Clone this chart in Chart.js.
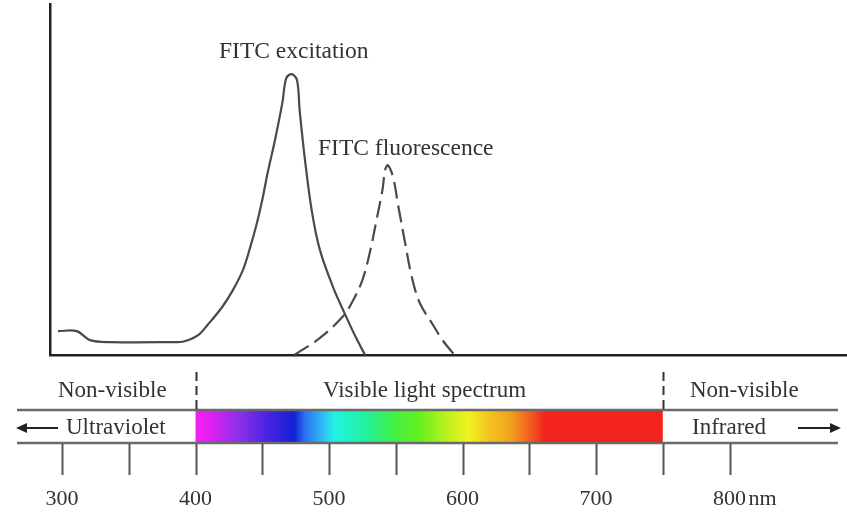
<!DOCTYPE html>
<html>
<head>
<meta charset="utf-8">
<script src="https://cdn.jsdelivr.net/npm/chart.js@4/dist/chart.umd.min.js"></script>
<style>
  html, body { margin: 0; padding: 0; background: #fff; }
  canvas { display: block; }
</style>
</head>
<body>
<canvas id="fitc" width="847" height="512"></canvas>
<script>
// wavelength (nm) vs relative intensity
const excitationNm  = [297, 311, 321, 336, 383, 391, 402, 409, 420, 428, 435.5, 441, 446, 450, 454, 459.5, 465, 468, 472, 476, 478, 482, 487, 493, 503, 513, 520, 527];
const excitationVal = [8.5, 8.5, 5.3, 4.6, 4.6, 4.8, 7.1, 10.7, 17.1, 23.1, 30.2, 38.4, 47, 55.2, 64.8, 76.5, 89.7, 98.6, 100, 97.9, 87.2, 69.4, 51.6, 37.7, 24.2, 13.5, 6.4, 0];
const fluorNm  = [474, 493, 510, 517, 525, 531, 536, 540, 542, 544, 548, 552, 557, 562, 568, 577, 585, 594];
const fluorVal = [0, 6, 13.5, 18.5, 26.7, 37.4, 49.1, 58.7, 65.8, 67.6, 63.3, 52.7, 39.9, 27.8, 18.5, 11.4, 5.3, 0];

const majorTicks = [300, 400, 500, 600, 700, 800];
const majorLabels = ['300', '400', '500', '600', '700', '800'];
const minorTicks = [350, 450, 550, 650, 750];
const visibleRange = [400, 750];

// spectrum colour stops (nm -> colour), style only
const spectrumStops = [
  [400, '#f222f0'], [411, '#e020f0'], [433, '#8a30e8'], [456, '#4422e0'],
  [474, '#1222d2'], [482, '#2a72f0'], [497, '#30c4f2'], [504, '#22f2e2'],
  [527, '#22f0a2'], [549, '#44f044'], [568, '#66f020'], [590, '#c4f020'],
  [605, '#f2f020'], [620, '#f2c420'], [635, '#f2a420'], [650, '#f26020'],
  [662, '#f2221c'], [750, '#f2221c']
];

const serif = '"Liberation Serif", "DejaVu Serif", serif';
const ink = '#333';

const toPoints = (xs, ys) => xs.map((x, i) => ({ x: x, y: ys[i] }));

const spectrumPlugin = {
  id: 'spectrum',
  afterDraw(chart) {
    const ctx = chart.ctx;
    const xs = chart.scales.x;
    const px = v => xs.getPixelForValue(v);
    const x0 = px(visibleRange[0]), x1 = px(visibleRange[1]);
    ctx.save();

    // curve labels
    ctx.fillStyle = ink;
    ctx.font = '23.5px ' + serif;
    ctx.textBaseline = 'alphabetic';
    ctx.textAlign = 'left';
    ctx.fillText('FITC excitation', 219, 58);
    ctx.fillText('FITC fluorescence', 318, 155);

    // coloured band
    const grad = ctx.createLinearGradient(x0, 0, x1, 0);
    spectrumStops.forEach(s => grad.addColorStop((s[0] - visibleRange[0]) / (visibleRange[1] - visibleRange[0]), s[1]));
    ctx.fillStyle = grad;
    ctx.fillRect(x0, 411, x1 - x0, 31);

    // band border lines
    ctx.strokeStyle = '#6a6a6a';
    ctx.lineWidth = 2.5;
    ctx.beginPath();
    ctx.moveTo(17, 410); ctx.lineTo(838, 410);
    ctx.moveTo(17, 443); ctx.lineTo(838, 443);
    ctx.stroke();

    // tick marks under the band
    ctx.strokeStyle = '#555';
    ctx.lineWidth = 2;
    ctx.beginPath();
    majorTicks.concat(minorTicks).forEach(v => {
      const x = Math.round(px(v)) + 0.5;
      ctx.moveTo(x, 444); ctx.lineTo(x, 475);
    });
    ctx.stroke();

    // dashed boundaries of the visible range
    ctx.strokeStyle = '#333';
    ctx.setLineDash([9, 5]);
    ctx.beginPath();
    [x0, x1].forEach(x => {
      ctx.moveTo(Math.round(x) + 0.5, 372); ctx.lineTo(Math.round(x) + 0.5, 410);
    });
    ctx.stroke();
    ctx.setLineDash([]);

    // tick labels
    ctx.fillStyle = ink;
    ctx.font = '22px ' + serif;
    ctx.textAlign = 'center';
    majorTicks.forEach((v, i) => ctx.fillText(majorLabels[i], px(v), 505));
    ctx.textAlign = 'left';
    ctx.fillText('nm', px(800) + 19, 505);

    // region labels
    ctx.font = '23px ' + serif;
    ctx.fillText('Non-visible', 58, 397);
    ctx.fillText('Visible light spectrum', 323, 397);
    ctx.fillText('Non-visible', 690, 397);
    ctx.fillText('Ultraviolet', 66, 434);
    ctx.fillText('Infrared', 692, 434);

    // arrows
    ctx.strokeStyle = '#222';
    ctx.fillStyle = '#222';
    ctx.lineWidth = 2;
    ctx.beginPath();
    ctx.moveTo(24, 428); ctx.lineTo(58, 428);
    ctx.moveTo(798, 428); ctx.lineTo(830, 428);
    ctx.stroke();
    ctx.beginPath();
    ctx.moveTo(16, 428); ctx.lineTo(27, 423); ctx.lineTo(27, 433); ctx.closePath();
    ctx.moveTo(841, 428); ctx.lineTo(830, 423); ctx.lineTo(830, 433); ctx.closePath();
    ctx.fill();

    ctx.restore();
  }
};

new Chart(document.getElementById('fitc'), {
  type: 'line',
  data: {
    datasets: [
      {
        label: 'FITC excitation',
        data: toPoints(excitationNm, excitationVal),
        borderColor: '#4a4a4a',
        borderWidth: 2.2,
        tension: 0.35,
        pointRadius: 0,
        fill: false
      },
      {
        label: 'FITC fluorescence',
        data: toPoints(fluorNm, fluorVal),
        borderColor: '#4a4a4a',
        borderWidth: 2.2,
        borderDash: [17, 7],
        tension: 0.35,
        pointRadius: 0,
        fill: false
      }
    ]
  },
  options: {
    responsive: false,
    animation: false,
    devicePixelRatio: 1,
    layout: { padding: { left: 50, top: 4, right: 0, bottom: 157 } },
    plugins: { legend: { display: false }, tooltip: { enabled: false } },
    scales: {
      x: {
        type: 'linear',
        min: 291,
        max: 888,
        grid: { display: false, drawTicks: false },
        border: { display: true, color: '#222', width: 2.5 },
        ticks: { display: false }
      },
      y: {
        min: 0,
        max: 125,
        grid: { display: false, drawTicks: false },
        border: { display: true, color: '#222', width: 2.5 },
        ticks: { display: false }
      }
    }
  },
  plugins: [spectrumPlugin]
});
</script>
</body>
</html>
